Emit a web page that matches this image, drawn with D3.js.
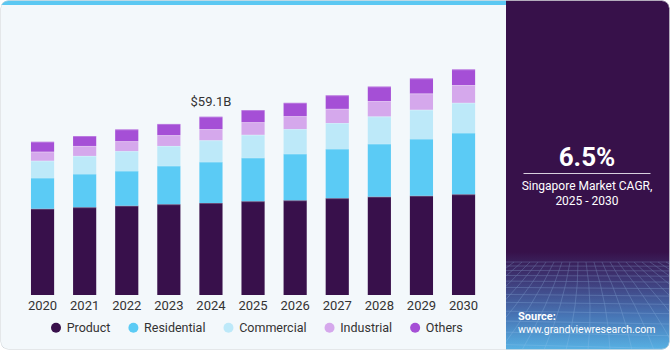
<!DOCTYPE html>
<html>
<head>
<meta charset="utf-8">
<script src="https://cdn.jsdelivr.net/npm/d3@7"></script>
<style>
  body { margin: 0; background: #ffffff; }
  text { font-family: Roboto, "Liberation Sans", sans-serif; }
</style>
</head>
<body>
<svg id="chart"></svg>
<script>
// values in USD billion
const years = ["2020", "2021", "2022", "2023", "2024", "2025", "2026", "2027", "2028", "2029", "2030"];
const product     = [28.6, 29.1, 29.6, 30.1, 30.5, 31.1, 31.4, 32.1, 32.6, 32.9, 33.4];
const residential = [10.2, 11.0, 11.5, 12.7, 13.6, 14.4, 15.4, 16.3, 17.5, 18.8, 20.3];
const commercial  = [5.7, 6.0, 6.6, 6.6, 7.2, 7.6, 8.2, 8.6, 9.1, 9.7, 10.0];
const industrial  = [3.0, 3.3, 3.3, 3.6, 3.7, 4.2, 4.3, 4.7, 5.1, 5.4, 5.9];
const others      = [3.3, 3.3, 3.9, 3.7, 4.1, 4.0, 4.4, 4.5, 4.8, 5.0, 5.2];
const seriesNames = ["Product", "Residential", "Commercial", "Industrial", "Others"];
const seriesColors = ["#38104b", "#5bcbf5", "#bde9f9", "#d5a8ec", "#a54fd6"];
const highlightYear = "2024";
const highlightLabel = "$59.1B";
const cagrValue = "6.5%";
const cagrText = ["Singapore Market CAGR,", "2025 - 2030"];

class stackedBarChart {
    constructor(_config, _data) {
        this.config = {
            parentElement: _config.parentElement,
            containerWidth: _config.containerWidth || 670,
            containerHeight: _config.containerHeight || 350,
            plotLeft: 21.5,
            plotRight: 484.6,
            baseline: 295,
            pxPerUnit: 3.017,
            panelX: 506
        }
        this.data = _data;
        this.initVis();
    }

    initVis() {
        let vis = this;
        const W = vis.config.containerWidth, H = vis.config.containerHeight;

        vis.svg = d3.select(vis.config.parentElement)
            .attr('width', W)
            .attr('height', H);

        const defs = vis.svg.append("defs");
        defs.append("clipPath").attr("id", "card")
            .append("rect")
            .attr("x", 0.5).attr("y", 0.5)
            .attr("width", W - 1).attr("height", H - 1)
            .attr("rx", 8);
        defs.append("clipPath").attr("id", "panel")
            .append("rect")
            .attr("x", vis.config.panelX).attr("y", 0)
            .attr("width", W - vis.config.panelX).attr("height", H);

        const grad = defs.append("linearGradient")
            .attr("id", "panelGrad")
            .attr("x1", 0).attr("y1", 0).attr("x2", 0).attr("y2", 1);
        grad.append("stop").attr("offset", "0%").attr("stop-color", "#37114a");
        grad.append("stop").attr("offset", "72%").attr("stop-color", "#37114a");
        grad.append("stop").attr("offset", "80%").attr("stop-color", "#3f3a78");
        grad.append("stop").attr("offset", "90%").attr("stop-color", "#4874b4");
        grad.append("stop").attr("offset", "100%").attr("stop-color", "#58b2e4");

        // card background
        vis.svg.append("rect")
            .attr("x", 0.5).attr("y", 0.5)
            .attr("width", W - 1).attr("height", H - 1)
            .attr("rx", 8)
            .attr("fill", "#f3f8fb");

        vis.card = vis.svg.append("g").attr("clip-path", "url(#card)");

        // light blue strip on top of the chart area
        vis.card.append("rect")
            .attr("x", 0).attr("y", 0)
            .attr("width", vis.config.panelX).attr("height", 5)
            .attr("fill", "#5bc8f2");

        // dark side panel
        vis.card.append("rect")
            .attr("x", vis.config.panelX).attr("y", 0)
            .attr("width", W - vis.config.panelX).attr("height", H)
            .attr("fill", "url(#panelGrad)");

        // perspective grid in the bottom of the panel (decoration)
        const grid = vis.card.append("g")
            .attr("clip-path", "url(#panel)")
            .attr("stroke", "#9fc8ee")
            .attr("stroke-width", 0.6)
            .attr("fill", "none")
            .attr("opacity", 0.4);
        const gTop = 262, gBot = H;
        let y = gTop, step = 4;
        while (y < gBot) {
            grid.append("line")
                .attr("x1", vis.config.panelX).attr("x2", W)
                .attr("y1", y).attr("y2", y + (y - gTop) * 0.05);
            y += step;
            step *= 1.12;
        }
        for (let i = -14; i <= 28; i++) {
            const xt = vis.config.panelX + i * 8;
            const xb = vis.config.panelX + 82 + (i - 10) * 22;
            grid.append("path")
                .attr("d", `M${xt},${gTop} Q${(xt + xb) / 2 + 6},${(gTop + gBot) / 2} ${xb},${gBot}`);
        }

        vis.card.append("rect")
            .attr("x", 0.5).attr("y", 0.5)
            .attr("width", W - 1).attr("height", H - 1)
            .attr("rx", 8)
            .attr("fill", "none")
            .attr("stroke", "#cfd3d6");

        // scales
        vis.xScale = d3.scaleBand()
            .domain(years)
            .range([vis.config.plotLeft, vis.config.plotRight])
            .paddingInner(0.45)
            .paddingOuter(0.225);

        vis.yScale = d3.scaleLinear()
            .domain([0, 60])
            .range([vis.config.baseline, vis.config.baseline - 60 * vis.config.pxPerUnit]);

        vis.xAxis = d3.axisBottom(vis.xScale).tickSize(0).tickPadding(6);

        vis.chart = vis.svg.append("g");
        vis.xAxisG = vis.chart.append("g")
            .attr("class", "axis x-axis")
            .attr("transform", `translate(0,${vis.config.baseline})`);
    }

    updateVis() {
        let vis = this;
        vis.stack = d3.stack().keys(seriesNames);
        vis.series = vis.stack(vis.data);
        vis.renderVis();
    }

    renderVis() {
        let vis = this;

        vis.chart.selectAll(".layer")
            .data(vis.series)
            .join("g")
            .attr("class", "layer")
            .attr("fill", (d, i) => seriesColors[i])
            .selectAll("rect")
            .data(d => d)
            .join("rect")
            .attr("x", d => vis.xScale(d.data.year))
            .attr("width", vis.xScale.bandwidth())
            .attr("y", d => vis.yScale(d[1]))
            .attr("height", d => vis.yScale(d[0]) - vis.yScale(d[1]));

        // thin light line at the top of each segment
        vis.chart.selectAll(".layer").selectAll("line")
            .data(d => d)
            .join("line")
            .attr("x1", d => vis.xScale(d.data.year))
            .attr("x2", d => vis.xScale(d.data.year) + vis.xScale.bandwidth())
            .attr("y1", d => vis.yScale(d[1]) + 0.5)
            .attr("y2", d => vis.yScale(d[1]) + 0.5)
            .attr("stroke", "#ffffff")
            .attr("stroke-opacity", 0.25);

        vis.xAxisG.call(vis.xAxis);
        vis.xAxisG.select(".domain").remove();
        vis.xAxisG.selectAll("text")
            .attr("font-family", "Roboto, sans-serif")
            .attr("font-size", 13)
            .attr("fill", "#333333");

        // total label above the highlighted bar
        const hi = vis.data.find(d => d.year === highlightYear);
        const total = d3.sum(seriesNames, k => hi[k]);
        vis.chart.append("text")
            .attr("x", vis.xScale(highlightYear) + vis.xScale.bandwidth() / 2)
            .attr("y", vis.yScale(total) - 10.5)
            .attr("text-anchor", "middle")
            .attr("font-size", 13)
            .attr("fill", "#333333")
            .text(highlightLabel);

        // legend
        const legend = vis.svg.append("g").attr("transform", "translate(56,327.7)");
        let lx = 0;
        seriesNames.forEach((name, i) => {
            const item = legend.append("g").attr("transform", `translate(${lx},0)`);
            item.append("circle").attr("r", 5).attr("fill", seriesColors[i]);
            const t = item.append("text")
                .attr("x", 10.7).attr("y", 4.4)
                .attr("font-size", 12.5)
                .attr("fill", "#333333")
                .text(name);
            lx += 10.7 + t.node().getComputedTextLength() + 23;
        });

        // side panel texts
        const cx = 587;
        vis.svg.append("text")
            .attr("x", cx).attr("y", 165.7)
            .attr("text-anchor", "middle")
            .attr("font-family", "DejaVu Sans, sans-serif")
            .attr("font-weight", "bold")
            .attr("font-size", 26)
            .attr("fill", "#ffffff")
            .text(cagrValue);
        vis.svg.append("line")
            .attr("x1", 523.5).attr("x2", 650.5)
            .attr("y1", 173.5).attr("y2", 173.5)
            .attr("stroke", "#d8d0de")
            .attr("stroke-width", 1.2);
        cagrText.forEach((s, i) => {
            vis.svg.append("text")
                .attr("x", cx).attr("y", 189.5 + i * 15)
                .attr("text-anchor", "middle")
                .attr("font-size", 12)
                .attr("fill", "#ffffff")
                .text(s);
        });
        vis.svg.append("text")
            .attr("x", 518).attr("y", 319.5)
            .attr("font-weight", "bold")
            .attr("font-size", 11)
            .attr("fill", "#ffffff")
            .text("Source:");
        vis.svg.append("text")
            .attr("x", 518).attr("y", 332.5)
            .attr("font-size", 10.5)
            .attr("fill", "#ffffff")
            .text("www.grandviewresearch.com");
    }
}

const data = years.map((year, i) => ({
    year: year,
    Product: product[i],
    Residential: residential[i],
    Commercial: commercial[i],
    Industrial: industrial[i],
    Others: others[i]
}));

const chart = new stackedBarChart({ parentElement: "#chart" }, data);
chart.updateVis();
</script>
</body>
</html>
